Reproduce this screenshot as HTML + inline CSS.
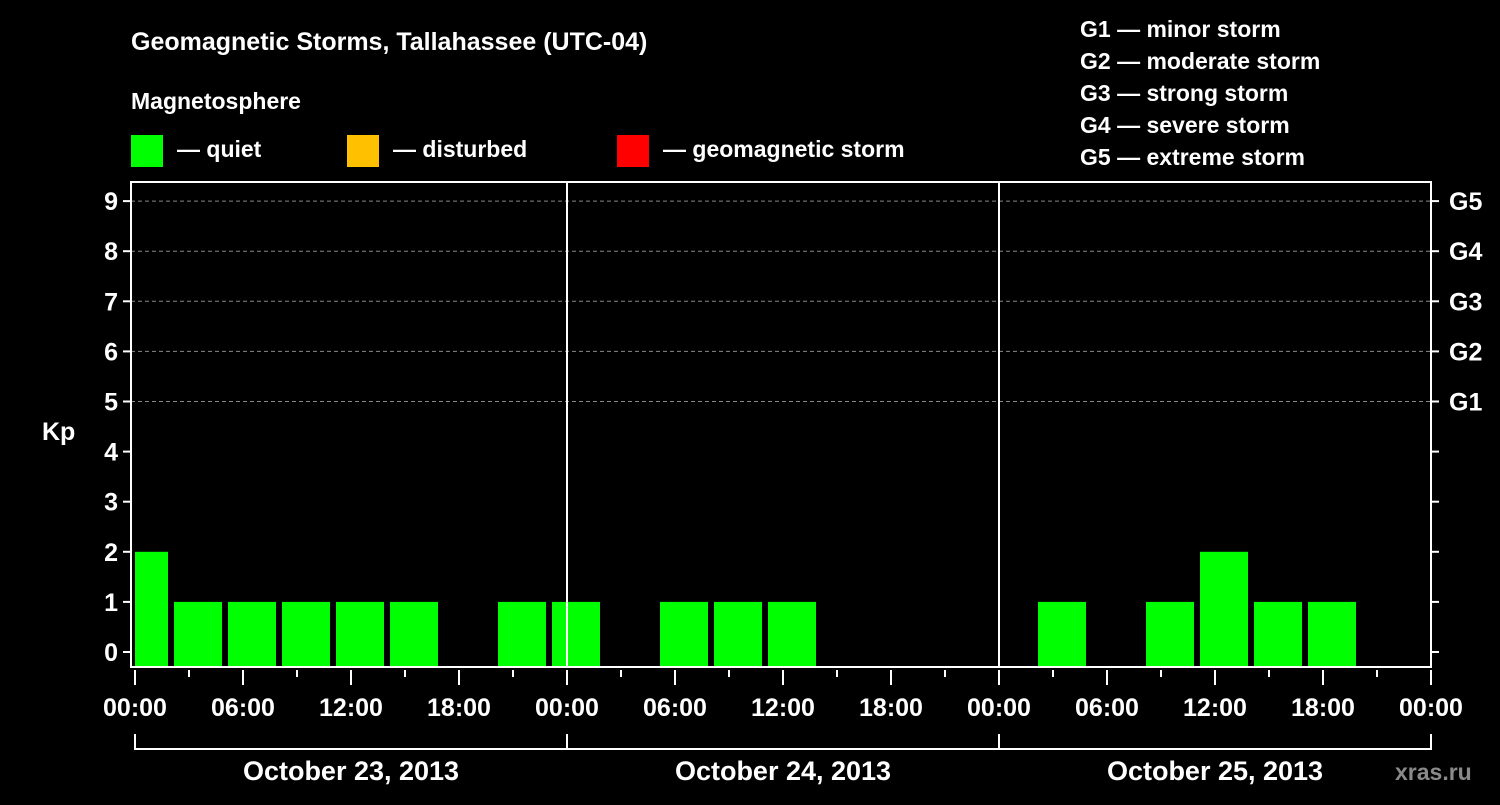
<!DOCTYPE html>
<html><head><meta charset="utf-8"><style>
body{margin:0;background:#000;width:1500px;height:800px;overflow:hidden}
svg text{font-family:"Liberation Sans",sans-serif;font-weight:bold;fill:#fff}
</style></head><body>
<svg id="c" width="1500" height="800" xmlns="http://www.w3.org/2000/svg">
<text x="131" y="50" font-size="25">Geomagnetic Storms, Tallahassee (UTC-04)</text>
<text x="131" y="109" font-size="23">Magnetosphere</text>
<g><rect x="131" y="135" width="32" height="32" fill="#00ff00"/><text x="177" y="157" font-size="23">— quiet</text></g>
<g><rect x="347" y="135" width="32" height="32" fill="#ffc000"/><text x="393" y="157" font-size="23">— disturbed</text></g>
<g><rect x="617" y="135" width="32" height="32" fill="#ff0000"/><text x="663" y="157" font-size="23">— geomagnetic storm</text></g>
<g font-size="23">
<text x="1080" y="37">G1 — minor storm</text><text x="1080" y="69">G2 — moderate storm</text><text x="1080" y="101">G3 — strong storm</text><text x="1080" y="133">G4 — severe storm</text><text x="1080" y="165">G5 — extreme storm</text>
</g>
<text x="42" y="440" font-size="25">Kp</text>
<text x="1395" y="780" font-size="23" fill="#888" style="fill:#8a8a8a">xras.ru</text>
<g id="plot"></g>
</svg>
<script>
const dayLabels=["October 23, 2013","October 24, 2013","October 25, 2013"];
const barHours=[0.5,3.5,6.5,9.5,12.5,15.5,18.5,21.5,24.5,27.5,30.5,33.5,36.5,39.5,42.5,45.5,48.5,51.5,54.5,57.5,60.5,63.5,66.5,69.5];
const kpValues=[2,1,1,1,1,1,0,1,1,0,1,1,1,0,0,0,0,1,0,1,2,1,1,0];
const yTicks=[0,1,2,3,4,5,6,7,8,9];
const gLabels={5:"G1",6:"G2",7:"G3",8:"G4",9:"G5"};
const hourLabels=["00:00","06:00","12:00","18:00"];
const NS="http://www.w3.org/2000/svg";
const X0=135,PXH=18,L=131,R=1431,T=182,B=667;
const x=h=>X0+h*PXH, y=v=>652-v*50.1;
const g=document.getElementById('plot');
function mk(t,a,p){const e=document.createElementNS(NS,t);for(const k in a)e.setAttribute(k,a[k]);(p||g).appendChild(e);return e;}
yTicks.forEach(v=>{
  if(v>=5){const l=mk('line',{x1:L,x2:R,y1:y(v),y2:y(v),stroke:'#888','stroke-dasharray':'4,3','stroke-width':1});
  
  }
  const t=mk('line',{x1:L-8,x2:L,y1:y(v),y2:y(v),stroke:'#fff','stroke-width':2});
  
  
  const t2=mk('line',{x1:R,x2:R+8,y1:y(v),y2:y(v),stroke:'#fff','stroke-width':2});
  
  
  const tx=mk('text',{x:L-13,y:y(v)+9,'font-size':25,'text-anchor':'end'});tx.textContent=v;
  
  
  if(gLabels[v]){const gt=mk('text',{x:R+18,y:y(v)+9,'font-size':25});gt.textContent=gLabels[v];
  
  }
});
barHours.forEach((h,i)=>{
  const v=kpValues[i]; if(v<=0)return;
  let x1=Math.max(x(h)-24,X0),x2=Math.min(x(h)+24,R);
  const c=v>=5?'#ff0000':(v>=4?'#ffc000':'#00ff00');
  const b=mk('rect',{x:x1,y:y(v),width:x2-x1,height:B-y(v),fill:c});
  
  
});
for(let d=1;d<3;d++){const l=mk('line',{x1:x(24*d),x2:x(24*d),y1:T,y2:B,stroke:'#fff','stroke-width':2});

}
const fr=mk('rect',{x:L,y:T,width:R-L,height:B-T,fill:'none',stroke:'#fff','stroke-width':2});


for(let h=0;h<=72;h+=3){const maj=h%6===0;
  const t=mk('line',{x1:x(h),x2:x(h),y1:B+3,y2:B+(maj?18:10),stroke:'#fff','stroke-width':2});
  
  
  if(maj){const tx=mk('text',{x:x(h),y:B+49,'font-size':25,'text-anchor':'middle'});tx.textContent=hourLabels[(h%24)/6];
  
  }
}
const br=mk('path',{d:`M${x(0)},734 V749 H${x(72)} V734 M${x(24)},734 V749 M${x(48)},734 V749`,stroke:'#fff','stroke-width':2,fill:'none'});


dayLabels.forEach((s,i)=>{const t=mk('text',{x:x(24*i+12),y:780,'font-size':27,'text-anchor':'middle'});t.textContent=s;

});
</script>
</body></html>
